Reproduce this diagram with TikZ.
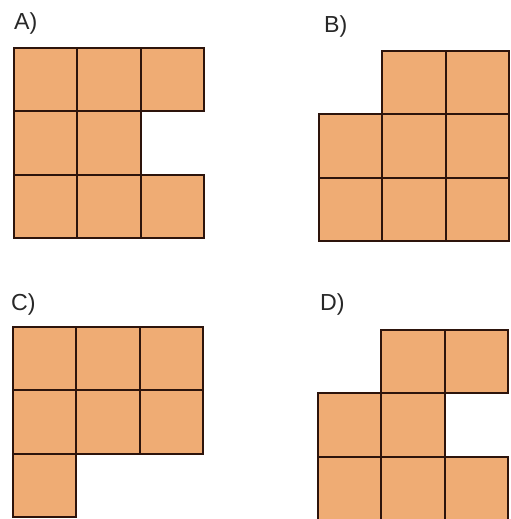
\documentclass[tikz,border=0pt]{standalone}
\usepackage{fontspec}
\setsansfont{Liberation Sans}
\usepackage{tikz}
\usetikzlibrary{positioning}
\definecolor{tilefill}{RGB}{239,172,116}
\definecolor{tileline}{RGB}{45,20,12}
\definecolor{labeltext}{RGB}{40,40,40}
\tikzset{
  tile/.style={draw=tileline,fill=tilefill,line width=2.8pt,minimum size=63.4*0.05cm,inner sep=0pt,outer sep=0pt},
  panellabel/.style={anchor=base west,inner sep=0pt,text=labeltext,font=\sffamily\fontsize{33}{38}\selectfont},
}

\begin{document}
\begin{tikzpicture}[x=0.05cm,y=-0.05cm]

\useasboundingbox (0,0) rectangle (511,519);

% A
\node[panellabel] (la) at (14,29) {A)};
\foreach \c/\r in {0/0,1/0,2/0,0/1,1/1,0/2,1/2,2/2}
  \node[tile] (a\c\r) at (14+63.4*\c+31.7,48+63.4*\r+31.7) {};

% B
\node[panellabel] (lb) at (324,32) {B)};
\foreach \c/\r in {1/0,2/0,0/1,1/1,2/1,0/2,1/2,2/2}
  \node[tile] (b\c\r) at (319+63.4*\c+31.7,51+63.4*\r+31.7) {};

% C
\node[panellabel] (lc) at (11,310) {C)};
\foreach \c/\r in {0/0,1/0,2/0,0/1,1/1,2/1,0/2}
  \node[tile] (c\c\r) at (13+63.4*\c+31.7,327+63.4*\r+31.7) {};

% D
\node[panellabel] (ld) at (320,310) {D)};
\foreach \c/\r in {1/0,2/0,0/1,1/1,0/2,1/2,2/2}
  \node[tile] (d\c\r) at (318+63.4*\c+31.7,330+63.4*\r+31.7) {};

\end{tikzpicture}
\end{document}
